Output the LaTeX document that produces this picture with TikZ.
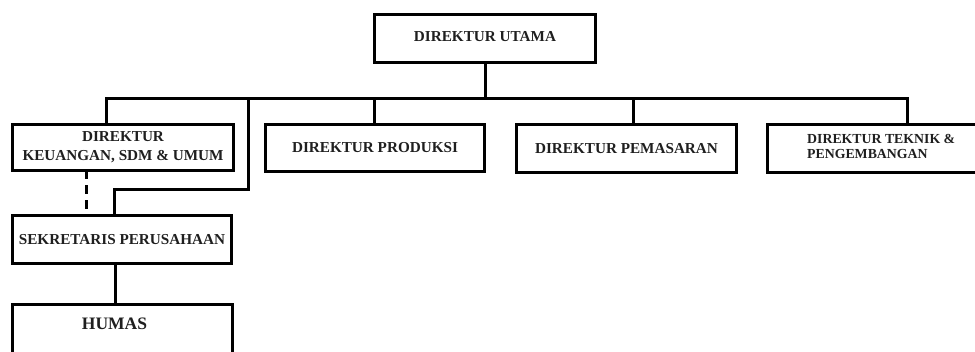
\documentclass[tikz,border=0pt]{standalone}
\usepackage{fontspec}
\setmainfont{Liberation Serif}
\begin{document}
\begin{tikzpicture}[x=1pt,y=-1pt,
  box/.style={draw=black,line width=3pt,inner sep=0pt,outer sep=0pt,fill=white,
    font=\bfseries\fontsize{15.2}{19}\selectfont,align=center,text=black!88},
  conn/.style={draw=black,line width=3pt,line join=miter},
]
\useasboundingbox (0,0) rectangle (975,352);
\clip (0,0) rectangle (975,352);
% boxes
\node[box,minimum width=221pt,minimum height=48pt] (du) at (485,38.5) {\raisebox{4pt}{DIREKTUR UTAMA}};
\node[box,minimum width=221pt,minimum height=46pt] (k) at (123,147.5) {\raisebox{-1.5pt}{DIREKTUR}\\\raisebox{-1.5pt}{KEUANGAN, SDM \& UMUM}};
\node[box,minimum width=219pt,minimum height=47pt] (p) at (375,148) {DIREKTUR PRODUKSI};
\node[box,minimum width=220pt,minimum height=48pt] (m) at (626.5,148.75) {DIREKTUR PEMASARAN};
\node[box,draw=none,fill=none,minimum width=207.5pt,minimum height=48pt,anchor=west] (t) at (767.5,148.5) {};
\draw[conn,line cap=butt] (t.north east) -- (t.north west) -- (t.south west) -- (t.south east);
\node[anchor=west,inner sep=0pt,align=left,text=black!88,
  font=\bfseries\fontsize{13.8}{14.5}\selectfont] (tt) at (807,146.5) {DIREKTUR TEKNIK \&\\PENGEMBANGAN};
\node[box,minimum width=219pt,minimum height=48pt] (s) at (122,239.5) {\raisebox{-2.5pt}{SEKRETARIS PERUSAHAAN}};
\node[box,minimum width=220pt,minimum height=80pt,anchor=north,
  font=\bfseries\fontsize{17.5}{20}\selectfont] (h) at (122.5,304.5) {\raisebox{-10pt}{\makebox[0pt]{\hspace*{-16pt}HUMAS}}\\[31pt]};
% bus coordinates
\coordinate (busL) at (106,98.5);
\coordinate (busR) at (907,98.5);
\coordinate (sbus) at (248,98.5);
\coordinate (sdrop) at (114,190);
\coordinate (dash) at (86,0);
\coordinate (hx) at (115,0);
% connectors
\draw[conn] (du.south) -- (du.south |- busL);
\draw[conn] (busL |- k.north) -- (busL) -- (busR) -- (busR |- t.north);
\draw[conn] (p.north -| 374,0) -- (374,98.5);
\draw[conn] (m.north -| 633,0) -- (633,98.5);
\draw[conn] (sbus) |- (sdrop) -- (sdrop |- s.north);
\draw[conn,dash pattern=on 9pt off 6pt] (k.south -| dash) -- (s.north -| dash);
\draw[conn] (s.south -| hx) -- (h.north -| hx);
\end{tikzpicture}
\end{document}
